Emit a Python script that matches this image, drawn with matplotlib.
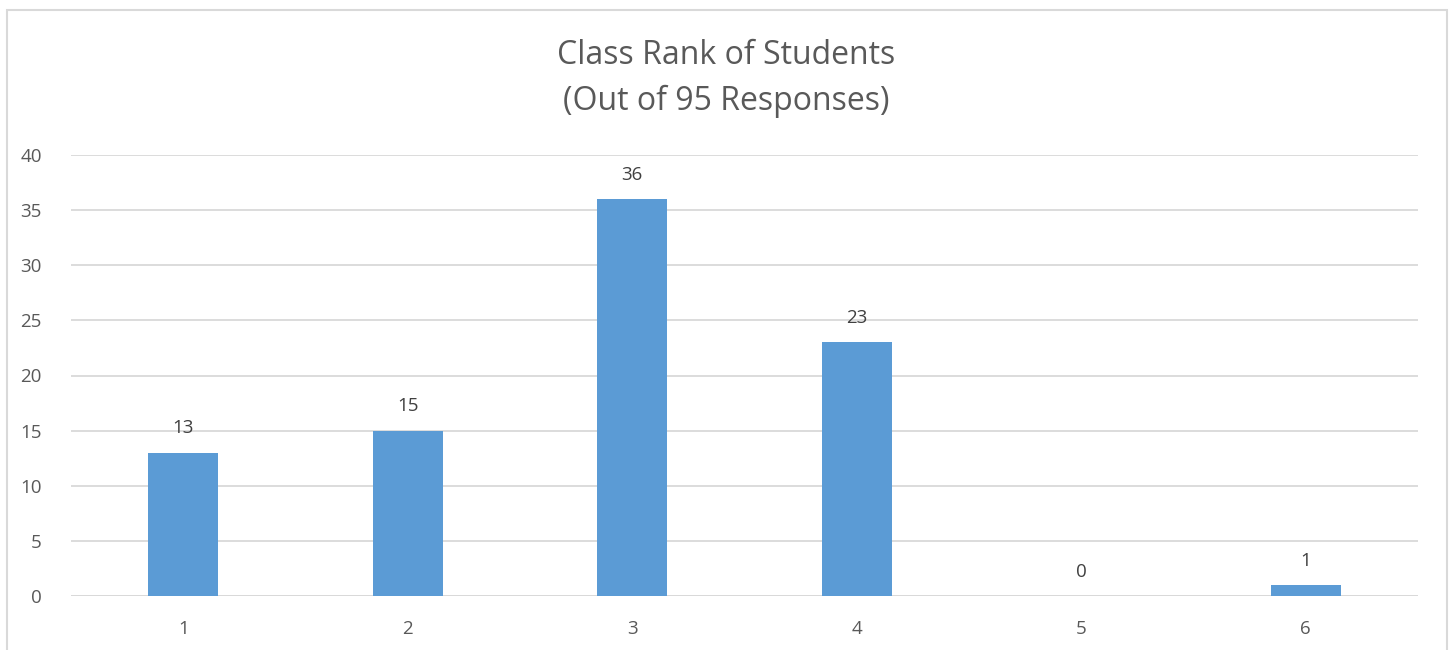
import matplotlib.pyplot as plt
from matplotlib.patches import Rectangle

ranks = ["1", "2", "3", "4", "5", "6"]
counts = [13, 15, 36, 23, 0, 1]
yticks = [0, 5, 10, 15, 20, 25, 30, 35, 40]

plt.rcParams['font.family'] = ['Open Sans', 'DejaVu Sans']
txt = "#595959"
grid = "#D9D9D9"

fig = plt.figure(figsize=(14.53, 6.5), dpi=100)
ax = fig.add_axes([71/1453, 1 - 596/650, (1418 - 71)/1453, (596 - 155)/650])

x = list(range(1, len(ranks) + 1))
bars = ax.bar(x, counts, width=0.312, color="#5B9BD5", zorder=3)
for xi, c in zip(x, counts):
    ax.annotate(str(c), (xi, c), xytext=(0, 11), textcoords="offset points",
                ha="center", va="bottom", fontsize=13.5, color="#404040")

ax.set_xlim(0.5, len(ranks) + 0.5)
ax.set_ylim(0, 40)
ax.set_xticks(x)
ax.set_xticklabels(ranks)
ax.set_yticks(yticks)
ax.yaxis.grid(True, color=grid, linewidth=1.3, zorder=0)
ax.tick_params(axis="both", length=0, labelsize=13.5, labelcolor=txt)
ax.tick_params(axis="y", pad=21)
ax.tick_params(axis="x", pad=17)
for s in ax.spines.values():
    s.set_visible(False)
ax.axhline(0, color=grid, linewidth=1.3, zorder=2)

fig.text(0.5, 1 - 55/650, "Class Rank of Students", ha="center", va="center",
         fontsize=23, color=txt)
fig.text(0.5, 1 - 101/650, "(Out of 95 Responses)", ha="center", va="center",
         fontsize=23, color=txt)

fig.patches.append(Rectangle((7/1453, -0.1), (1447 - 7)/1453, 1.1 - 10/650,
                             transform=fig.transFigure, fill=False,
                             edgecolor=grid, linewidth=1.5))

fig.savefig("out.png", dpi=100)
